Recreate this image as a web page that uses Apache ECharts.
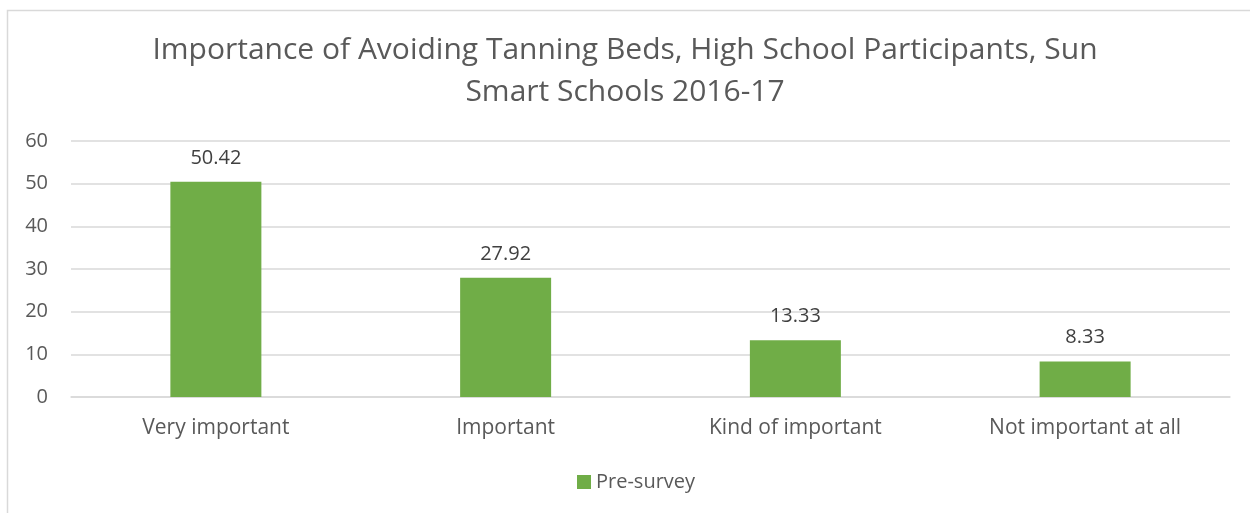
<!DOCTYPE html>
<html>
<head>
<meta charset="utf-8">
<script src="https://cdn.jsdelivr.net/npm/echarts@6/dist/echarts.min.js"></script>
<style>
  html, body { margin: 0; padding: 0; background: #ffffff; }
  #chart { width: 1250px; height: 513px; }
</style>
</head>
<body>
<div id="chart"></div>
<script>
const titleText = 'Importance of Avoiding Tanning Beds, High School Participants, Sun\nSmart Schools 2016-17';
const categories = ['Very important', 'Important', 'Kind of important', 'Not important at all'];
const seriesName = 'Pre-survey';
const preSurvey = [50.42, 27.92, 13.33, 8.33];
const yTicks = { min: 0, max: 60, interval: 10 };

const chart = echarts.init(document.getElementById('chart'), null, { renderer: 'canvas' });
const textColor = '#595959';
const fontFamily = '"Open Sans", "Noto Sans", sans-serif';

chart.setOption({
  backgroundColor: '#ffffff',
  animation: false,
  graphic: [{
    type: 'rect',
    shape: { x: 7.5, y: 10.5, width: 1300, height: 600 },
    style: { fill: 'none', stroke: '#d9d9d9', lineWidth: 1.5 },
    silent: true
  }],
  title: {
    text: titleText,
    left: 'center',
    top: 29,
    padding: 0,
    textStyle: {
      fontFamily: fontFamily,
      fontSize: 30,
      fontWeight: 'normal',
      color: textColor,
      lineHeight: 42
    }
  },
  legend: {
    data: [seriesName],
    left: 577,
    top: 472,
    padding: 0,
    itemWidth: 14,
    itemHeight: 14,
    itemGap: 6,
    icon: 'rect',
    textStyle: { fontFamily: fontFamily, fontSize: 20, color: textColor }
  },
  grid: { left: 71, right: 20, top: 141, bottom: 116, containLabel: false },
  xAxis: {
    type: 'category',
    data: categories,
    axisLine: { show: true, lineStyle: { color: '#d9d9d9', width: 1.5 } },
    axisTick: { show: false },
    axisLabel: { fontFamily: fontFamily, fontSize: 21, color: textColor, margin: 21 }
  },
  yAxis: {
    type: 'value',
    min: yTicks.min,
    max: yTicks.max,
    interval: yTicks.interval,
    axisLine: { show: false },
    axisTick: { show: false },
    splitLine: { lineStyle: { color: '#d9d9d9', width: 1.5 } },
    axisLabel: { fontFamily: fontFamily, fontSize: 20, color: textColor, margin: 23 }
  },
  series: [{
    name: seriesName,
    type: 'bar',
    data: preSurvey,
    barWidth: 91,
    itemStyle: { color: '#70ad47' },
    label: {
      show: true,
      position: 'top',
      distance: 14,
      fontFamily: fontFamily,
      fontSize: 20,
      color: '#404040',
      formatter: p => p.value.toFixed(2)
    }
  }]
});
</script>
</body>
</html>
